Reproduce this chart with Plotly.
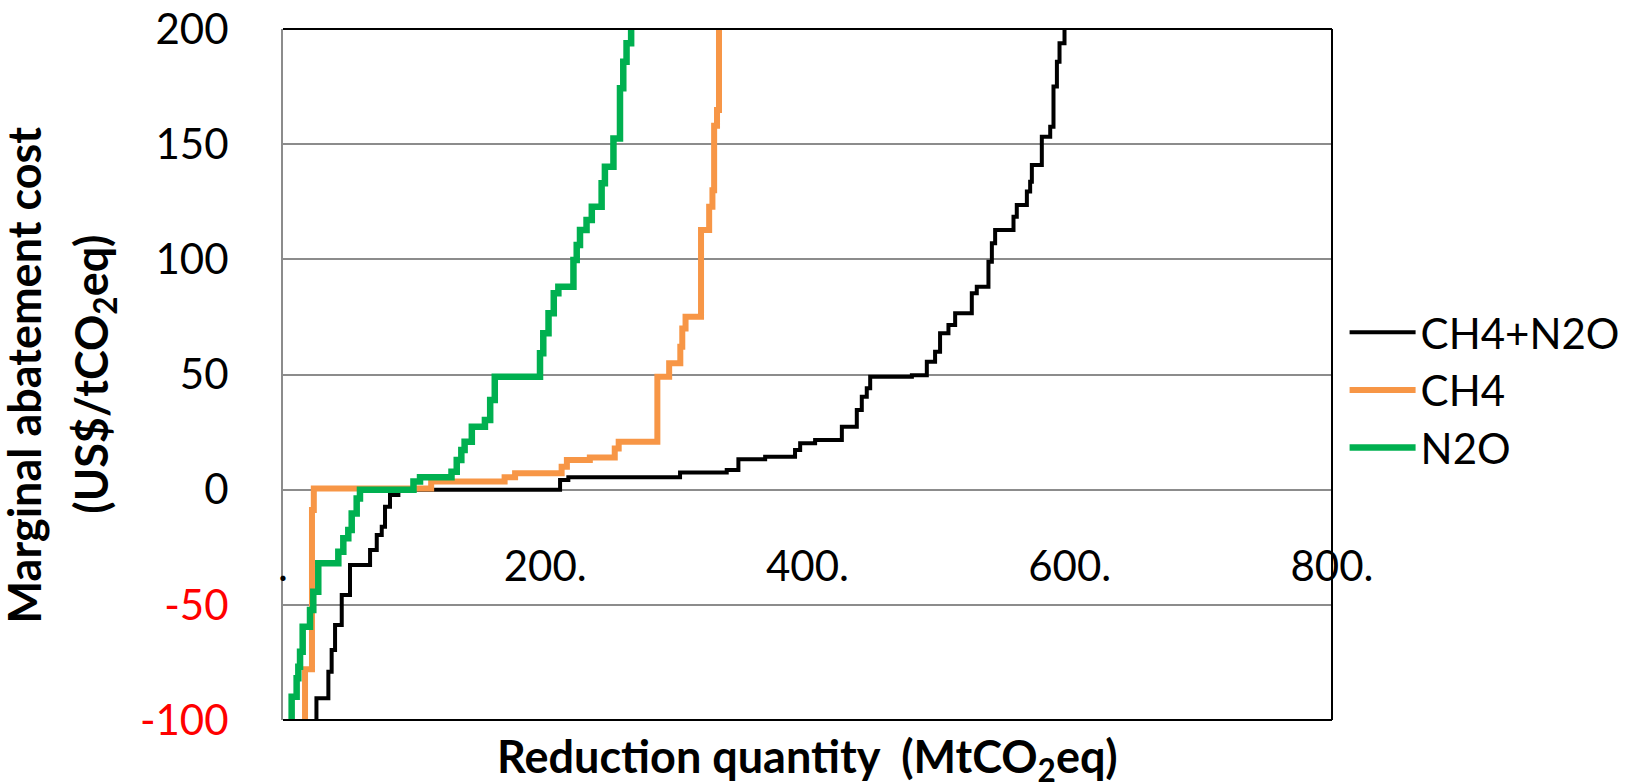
import plotly.graph_objects as go

# ---- data (step corners: x of riser, value reached) ----
both_x = [25.5, 25.5, 34.6, 37.1, 39.7, 44.8, 51.1, 66.4, 71.5, 75.3, 77.8, 81.6, 88.0,
          211.3, 217.6, 302.8, 338.4, 347.3, 367.7, 390.5, 394.4, 405.8, 426.2, 437.6,
          441.4, 445.2, 447.8, 479.6, 491.0, 497.3, 501.1, 507.5, 512.6, 525.3, 529.1,
          538.0, 540.6, 543.1, 557.1, 559.6, 567.3, 569.8, 571.1, 578.7, 585.1, 587.6,
          590.2, 592.2, 596.0]
both_y = [-100, -90.6, -79.0, -69.6, -58.8, -45.7, -32.7, -26.2, -19.7, -16.1, -7.4, -2.3, 0.0,
          4.2, 5.4, 7.4, 8.5, 13.2, 14.3, 17.2, 20.1, 21.6, 27.3, 34.6,
          40.3, 44.0, 49.0, 49.7, 55.5, 59.9, 67.9, 71.5, 76.6, 85.3, 88.1,
          99.0, 107.0, 112.7, 118.5, 123.6, 129.4, 133.7, 141.0, 153.2, 157.6, 175.0,
          185.8, 193.8, 200.0]

ch4_x = [16.8, 16.8, 22.1, 23.5, 113.0, 169.0, 177.0, 212.5, 216.5, 234.0, 253.0, 256.0,
         285.5, 294.5, 303.0, 304.5, 307.0, 318.8, 325.0, 327.5, 328.8, 331.0, 332.5]
ch4_y = [-100, -78.0, -8.8, 0.5, 3.5, 5.4, 7.1, 10.0, 12.9, 14.0, 17.9, 20.8,
         49.0, 54.9, 62.1, 70.0, 75.1, 112.7, 122.8, 130.0, 158.0, 164.8, 200.0]

n2o_x = [6.6, 6.6, 10.4, 11.7, 13.0, 15.0, 20.6, 23.1, 26.9, 42.2, 46.0, 49.8, 52.4, 56.2, 58.7,
         99.5, 104.5, 128.5, 132.5, 136.0, 138.5, 144.0, 154.0, 158.0, 161.5,
         196.0, 198.5, 202.5, 206.5, 210.0, 221.5, 224.0, 226.5, 231.5, 235.5, 243.0,
         245.5, 252.0, 257.0, 259.5, 262.0, 265.5]
n2o_y = [-100, -89.9, -81.9, -76.9, -70.4, -59.5, -52.2, -44.3, -32.0, -26.9, -21.1, -17.5, -10.3, -3.8, 0.0,
         3.5, 5.4, 7.8, 12.9, 17.2, 20.8, 27.3, 30.2, 38.9, 49.0,
         59.2, 67.9, 76.6, 85.3, 88.1, 99.7, 106.2, 112.7, 117.1, 122.8, 133.0,
         140.2, 152.5, 174.3, 185.8, 193.8, 200.0]

series_names = ["CH4+N2O", "CH4", "N2O"]
x_ticks = [0, 200, 400, 600, 800]
x_ticktext = [".", "200.", "400.", "600.", "800."]
y_ticks = [-100, -50, 0, 50, 100, 150, 200]
y_ticktext = ['<span style="color:#FF0000">-100</span>', '<span style="color:#FF0000">-50</span>',
              "0", "50", "100", "150", "200"]

FONT = "Lato"
fig = go.Figure()
fig.add_trace(go.Scatter(x=both_x, y=both_y, mode="lines", line_shape="hv", name=series_names[0],
                         line=dict(color="#000000", width=4)))
fig.add_trace(go.Scatter(x=ch4_x, y=ch4_y, mode="lines", line_shape="hv", name=series_names[1],
                         line=dict(color="#F79646", width=6)))
fig.add_trace(go.Scatter(x=n2o_x, y=n2o_y, mode="lines", line_shape="hv", name=series_names[2],
                         line=dict(color="#00B050", width=6.5)))

fig.update_layout(
    width=1631, height=782,
    margin=dict(l=283, r=299, t=29, b=62, autoexpand=False),
    paper_bgcolor="white", plot_bgcolor="white",
    font=dict(family=FONT, size=42, color="black"),
    showlegend=True,
    legend=dict(x=1.012, xanchor="left", y=0.61, yanchor="top", itemwidth=66,
                font=dict(family=FONT, size=42, color="black"),
                bgcolor="rgba(0,0,0,0)", tracegroupgap=0),
    xaxis=dict(range=[0, 800], anchor="free", position=0.263, showgrid=False, zeroline=False,
               showline=False, ticks="", tickvals=x_ticks, ticktext=x_ticktext, automargin=False,
               tickfont=dict(family=FONT, size=42), ticklabeloverflow="allow", fixedrange=True),
    yaxis=dict(range=[-100, 200], tickvals=y_ticks, ticktext=y_ticktext, showgrid=True,
               gridcolor="#8C8C8C", gridwidth=2, zeroline=True, zerolinecolor="#8C8C8C", zerolinewidth=2,
               showline=True, linecolor="#8C8C8C", linewidth=2, ticks="", automargin=False,
               ticklabelstandoff=44, tickfont=dict(family=FONT, size=42)),
    shapes=[
        dict(type="line", xref="paper", yref="paper", x0=0, x1=1, y0=1, y1=1,
             line=dict(color="black", width=2)),
        dict(type="line", xref="paper", yref="paper", x0=0, x1=1, y0=0, y1=0,
             line=dict(color="black", width=2)),
        dict(type="line", xref="paper", yref="paper", x0=1, x1=1, y0=0, y1=1,
             line=dict(color="black", width=2)),
    ],
    annotations=[
        dict(text="<b>Marginal abatement cost</b>", xref="paper", yref="paper",
             x=-0.247, y=0.5, xanchor="center", yanchor="middle", textangle=-90,
             showarrow=False, font=dict(family=FONT, size=45, color="black")),
        dict(text="<b>(US$/tCO<sub>2</sub>eq)</b>", xref="paper", yref="paper",
             x=-0.181, y=0.5, xanchor="center", yanchor="middle", textangle=-90,
             showarrow=False, font=dict(family=FONT, size=45, color="black")),
        dict(text="<b>Reduction quantity  (MtCO<sub>2</sub>eq)</b>", xref="paper", yref="paper",
             x=0.5, y=-0.057, xanchor="center", yanchor="middle",
             showarrow=False, font=dict(family=FONT, size=45, color="black")),
    ],
)

fig.write_html("out.html")
